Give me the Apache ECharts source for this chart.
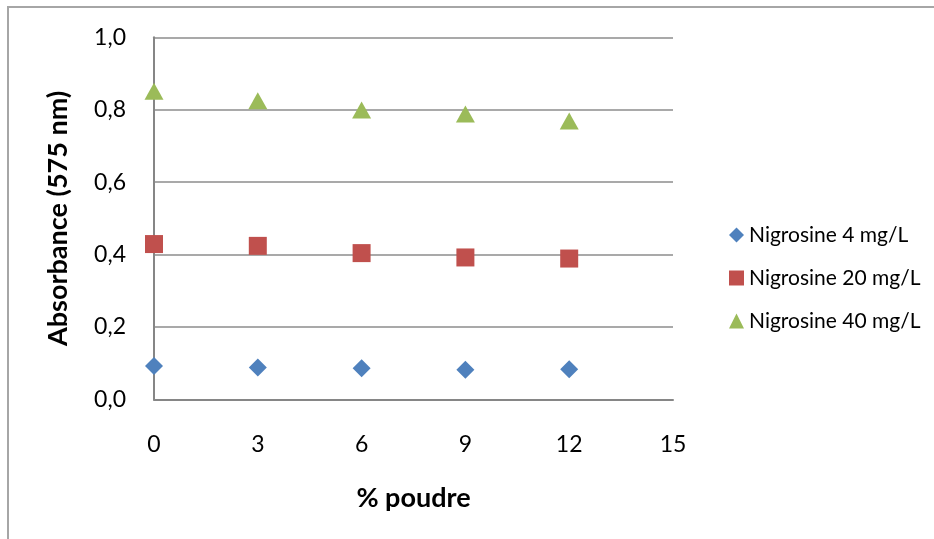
<!DOCTYPE html>
<html>
<head>
<meta charset="utf-8">
<script src="https://cdn.jsdelivr.net/npm/echarts@6/dist/echarts.min.js"></script>
<style>
html,body{margin:0;padding:0;background:#fff;}
#c{width:934px;height:539px;}
</style>
</head>
<body>
<div id="c"></div>
<script>
const xValues = [0, 3, 6, 9, 12];
const seriesNames = ['Nigrosine 4 mg/L', 'Nigrosine 20 mg/L', 'Nigrosine 40 mg/L'];
const nigro4 = [0.092, 0.088, 0.086, 0.082, 0.083];
const nigro20 = [0.429, 0.424, 0.404, 0.392, 0.389];
const nigro40 = [0.851, 0.825, 0.799, 0.788, 0.769];
const xTitle = '% poudre';
const yTitle = 'Absorbance (575 nm)';

const FONT = 'Lato, "Open Sans", sans-serif';
const pairs = arr => xValues.map((x, i) => [x, arr[i]]);

const chart = echarts.init(document.getElementById('c'), null, {renderer: 'canvas'});
chart.setOption({
  animation: false,
  backgroundColor: '#fff',
  graphic: [{
    type: 'rect',
    shape: {x: 8, y: 7, width: 960, height: 560},
    style: {fill: 'none', stroke: '#a6a6a6', lineWidth: 2},
    silent: true
  }],
  grid: {left: 154, right: 261, top: 37.3, bottom: 139.6, containLabel: false},
  xAxis: {
    type: 'value', min: 0, max: 15, interval: 3,
    name: xTitle, nameLocation: 'middle', nameGap: 85,
    nameTextStyle: {fontFamily: FONT, fontSize: 27, fontWeight: 'bold', color: '#000'},
    axisLine: {show: true, onZero: false, lineStyle: {color: '#868686', width: 2}},
    axisTick: {show: false},
    splitLine: {show: false},
    axisLabel: {fontFamily: FONT, fontSize: 23, color: '#000', margin: 34}
  },
  yAxis: {
    type: 'value', min: 0, max: 1, interval: 0.2,
    name: yTitle, nameLocation: 'middle', nameGap: 82, nameRotate: 90,
    nameTextStyle: {fontFamily: FONT, fontSize: 27, fontWeight: 'bold', color: '#000'},
    axisLine: {show: true, lineStyle: {color: '#868686', width: 2}},
    axisTick: {show: false},
    splitLine: {show: true, lineStyle: {color: '#8c8c8c', width: 1.5}},
    axisLabel: {fontFamily: FONT, fontSize: 23, color: '#000', margin: 28,
      formatter: v => v.toFixed(1).replace('.', ',')}
  },
  legend: {
    orient: 'vertical', left: 724, top: 218,
    itemGap: 19, itemWidth: 15, itemHeight: 15,
    textStyle: {fontFamily: FONT, fontSize: 21, color: '#000', lineHeight: 24},
    data: [
      {name: seriesNames[0], icon: 'diamond'},
      {name: seriesNames[1], icon: 'rect'},
      {name: seriesNames[2], icon: 'triangle'}
    ]
  },
  series: [
    {name: seriesNames[0], type: 'scatter', symbol: 'diamond', symbolSize: [18, 18],
      itemStyle: {color: '#4F81BD', opacity: 1}, data: pairs(nigro4)},
    {name: seriesNames[1], type: 'scatter', symbol: 'rect', symbolSize: [18, 18],
      itemStyle: {color: '#C0504D', opacity: 1}, data: pairs(nigro20)},
    {name: seriesNames[2], type: 'scatter', symbol: 'triangle', symbolSize: [19, 17],
      itemStyle: {color: '#9BBB59', opacity: 1}, data: pairs(nigro40)}
  ]
});
</script>
</body>
</html>
